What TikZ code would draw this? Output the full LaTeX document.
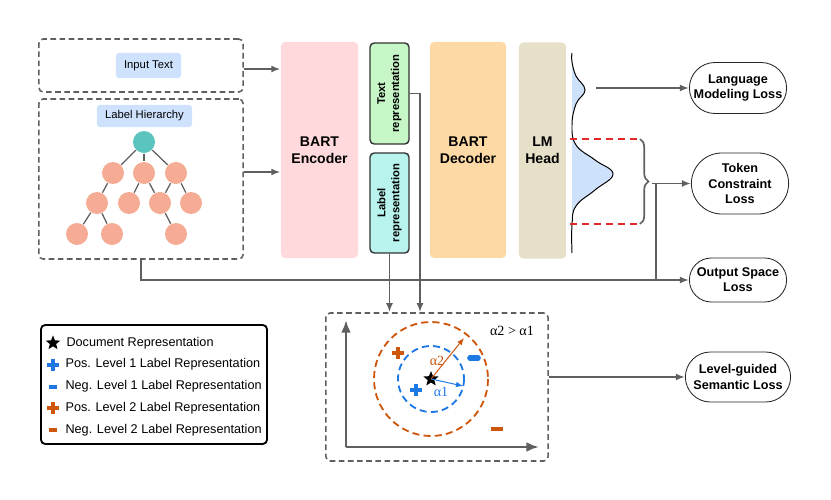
\documentclass[tikz,border=0pt]{standalone}
\usepackage{fontspec}
\setmainfont{Liberation Sans}
\newfontfamily\serifgr{Liberation Serif}
\usepackage{tikz}
\usetikzlibrary{shapes,shapes.misc,arrows,arrows.meta,positioning,decorations.pathreplacing,backgrounds}

\definecolor{linegray}{RGB}{95,95,95}
\definecolor{tagblue}{RGB}{207,226,253}
\definecolor{rootteal}{RGB}{91,196,191}
\definecolor{leafsalmon}{RGB}{246,171,148}
\definecolor{encpink}{RGB}{255,217,220}
\definecolor{repgreen}{RGB}{199,246,199}
\definecolor{repcyan}{RGB}{184,243,238}
\definecolor{decorange}{RGB}{253,218,165}
\definecolor{headbeige}{RGB}{230,224,200}
\definecolor{distblue}{RGB}{206,225,250}
\definecolor{cutred}{RGB}{228,40,40}
\definecolor{lvlblue}{RGB}{30,120,228}
\definecolor{lvlorange}{RGB}{206,85,12}

\begin{document}
\begin{tikzpicture}[x=0.025cm,y=-0.025cm,>={Latex[length=6.5pt,width=5pt]},line width=0.8pt]
\tikzstyle{dashbox}=[draw=linegray,dash pattern=on 4pt off 2.5pt,line width=1.1pt,rounded corners=3pt,minimum width=5.1cm]
\tikzstyle{tag}=[fill=tagblue,rounded corners=2pt,font=\fontsize{8}{9}\selectfont]
\tikzstyle{tnode}=[circle,fill=leafsalmon,minimum size=0.55cm,inner sep=0pt]
\tikzstyle{block}=[rounded corners=3pt,minimum height=5.4cm,align=center,font=\bfseries\fontsize{10}{12}\selectfont]
\tikzstyle{rep}=[draw=black!80,line width=1pt,rounded corners=3pt,rotate=90,minimum height=0.975cm,align=center,font=\bfseries\fontsize{8}{10}\selectfont]
\tikzstyle{loss}=[draw=black!85,line width=0.6pt,rounded rectangle,minimum width=2.5cm,align=center,inner sep=1pt,font=\bfseries\fontsize{9}{10.8}\selectfont]
\tikzstyle{flow}=[draw=linegray,line width=1.3pt]
\tikzstyle{legtext}=[anchor=west,inner sep=0pt,font=\fontsize{9}{10}\selectfont]
\tikzset{posmark/.pic={\draw[line width=2.2pt] (-6,0) -- (6,0) (0,-6) -- (0,6);}}

\useasboundingbox (0,0) rectangle (831,500);

% Input text
\node[dashbox,minimum height=1.325cm] at (141,65.5) (intext) {};
\node[tag,minimum width=1.625cm,minimum height=0.625cm] at (148.5,65.5) (intag) {Input Text};

% Label hierarchy
\node[dashbox,minimum height=4cm] at (141,179) (lhier) {};
\node[tag,minimum width=2.375cm,minimum height=0.55cm] at (144.5,116) (lhtag) {Label Hierarchy};
\node[tnode,fill=rootteal] at (144,142) (r) {};
\node[tnode] at (113,173) (a1) {};
\node[tnode] at (144,173) (a2) {};
\node[tnode] at (176,173) (a3) {};
\node[tnode] at (97,203) (b1) {};
\node[tnode] at (129,203) (b2) {};
\node[tnode] at (160,203) (b3) {};
\node[tnode] at (191,203) (b4) {};
\node[tnode] at (77,234) (c1) {};
\node[tnode] at (112,234) (c2) {};
\node[tnode] at (176,234) (c3) {};
\foreach \u/\v in {r/a1,r/a2,r/a3,a1/b1,a2/b2,a2/b3,a3/b3,a3/b4,b1/c1,b1/c2,b3/c3}
  \draw[linegray,line width=0.9pt] (\u) -- (\v);

% Encoder, representations, decoder, head
\node[block,fill=encpink,minimum width=1.925cm] at (319.5,150) (enc) {BART\\Encoder};
\node[rep,fill=repgreen,minimum width=2.525cm] at (389.5,93.5) (txtrep) {Text\\representation};
\node[rep,fill=repcyan,minimum width=2.5cm] at (389.5,203) (lblrep) {Label\\representation};
\node[block,fill=decorange,minimum width=1.9cm] at (468,150) (dec) {BART\\Decoder};
\node[block,fill=headbeige,minimum width=1.175cm] at (542.5,150.5) (lmhead) {LM\\Head};
\draw[flow,->] (intext.east |- 0,69) -- (enc.west |- 0,69);
\draw[flow,->] (lhier.east |- 0,172) -- (enc.west |- 0,172);

% Output distribution
\fill[distblue] plot[smooth,tension=0.7] coordinates {(572,60) (576,76) (585,90) (576,104) (572,125) (576,145) (595,160) (613,174) (595,190) (576,206) (572,225) (572,240)} -- cycle;
\draw[black,line width=0.7pt] plot[smooth,tension=0.7] coordinates {(572,53) (572,62) (576,76) (585,90) (576,104) (572,125) (576,145) (595,160) (613,174) (595,190) (576,206) (572,225) (572,253)};
\draw[cutred,dashed,dash pattern=on 5pt off 3.5pt,line width=1.1pt] (570,139) -- (638,139) (570,224) -- (638,224);
\draw[linegray,line width=1.2pt,decorate,decoration={brace,amplitude=6pt}] (640,139) -- (640,224);
\coordinate (bump) at (596,88);
\coordinate (bracetip) at (652,183.5);
\coordinate (join) at (656,280);

% Losses
\node[loss,minimum height=1.275cm] at (738,88) (lmloss) {Language\\Modeling Loss};
\node[loss,minimum height=1.525cm] at (740,183.5) (tokloss) {Token\\Constraint\\Loss};
\node[loss,minimum height=1.1cm] at (738,280) (outloss) {Output Space\\Loss};
\node[loss,minimum width=2.7cm,minimum height=1.25cm] at (738,377) (levloss) {Level-guided\\Semantic Loss};
\draw[flow,->] (bump) -- (lmloss.west);
\draw[flow,->] (bracetip) -- (tokloss.west);
\draw[flow,->] (lhier.south) |- (outloss.west);
\draw[flow] (join) -- (join |- tokloss.west);

% Label space
\node[dashbox,minimum width=5.55cm,minimum height=3.7cm] at (437,387) (embbox) {};
\draw[flow,->] (txtrep.south) -| (embbox.north -| 420,0);
\draw[flow,->] (lblrep.west) -- (lblrep.west |- embbox.north);
\draw[flow,->] (embbox.east |- levloss.west) -- (levloss.west);
\draw[linegray,line width=1.8pt,-{Latex[length=9pt,width=7pt]}] (346,447) -- (346,320);
\draw[linegray,line width=1.8pt,-{Latex[length=9pt,width=7pt]}] (346,447) -- (539,447);
\node[star,star points=5,star point ratio=2.3,fill=black,inner sep=0pt,minimum size=0.4cm] at (431,379) (docstar) {};
\draw[lvlblue,dashed,dash pattern=on 5pt off 3pt,line width=1.3pt] (docstar.center) circle (33);
\draw[lvlorange,dashed,dash pattern=on 5pt off 3pt,line width=1.3pt] (docstar.center) circle (57);
\draw[lvlblue,-{Latex[length=5pt,width=4pt]},line width=0.7pt] (docstar.center) -- (463,386);
\draw[lvlorange,-{Latex[length=5pt,width=4pt]},line width=0.7pt] (docstar.center) -- (464,338);
\node[lvlblue,font=\serifgr\fontsize{10}{10}\selectfont] at (441,392) (a1lbl) {α1};
\node[lvlorange,font=\serifgr\fontsize{10}{10}\selectfont] at (437,361) (a2lbl) {α2};
\node[font=\serifgr\fontsize{10}{10}\selectfont] at (512,331) (ineq) {α2 > α1};
\pic[lvlblue] at (416,390) {posmark};
\pic[lvlorange] at (398,353) {posmark};
\draw[lvlblue,line width=4pt,line cap=round] (470,358) -- (478,358);
\draw[lvlorange,line width=3.5pt] (491,429) -- (503,429);

% Legend
\node[draw=black,line width=1.3pt,rounded corners=3pt,minimum width=5.65cm,minimum height=2.975cm] at (154,384.5) (legend) {};
\node[star,star points=5,star point ratio=2.3,fill=black,inner sep=0pt,minimum size=0.38cm] at (53,343) (legstar) {};
\pic[lvlblue] at (53,365) {posmark};
\draw[lvlblue,line width=2.8pt] (49,387) -- (57,387);
\pic[lvlorange] at (53,408) {posmark};
\draw[lvlorange,line width=2.8pt] (49,430) -- (57,430);
\node[legtext] at (66,343) (l1) {Document Representation};
\node[legtext] at (65,364) (l2) {Pos. Level 1 Label Representation};
\node[legtext] at (65,386) (l3) {Neg. Level 1 Label Representation};
\node[legtext] at (65,408) (l4) {Pos. Level 2 Label Representation};
\node[legtext] at (65,430) (l5) {Neg. Level 2 Label Representation};

\end{tikzpicture}
\end{document}
